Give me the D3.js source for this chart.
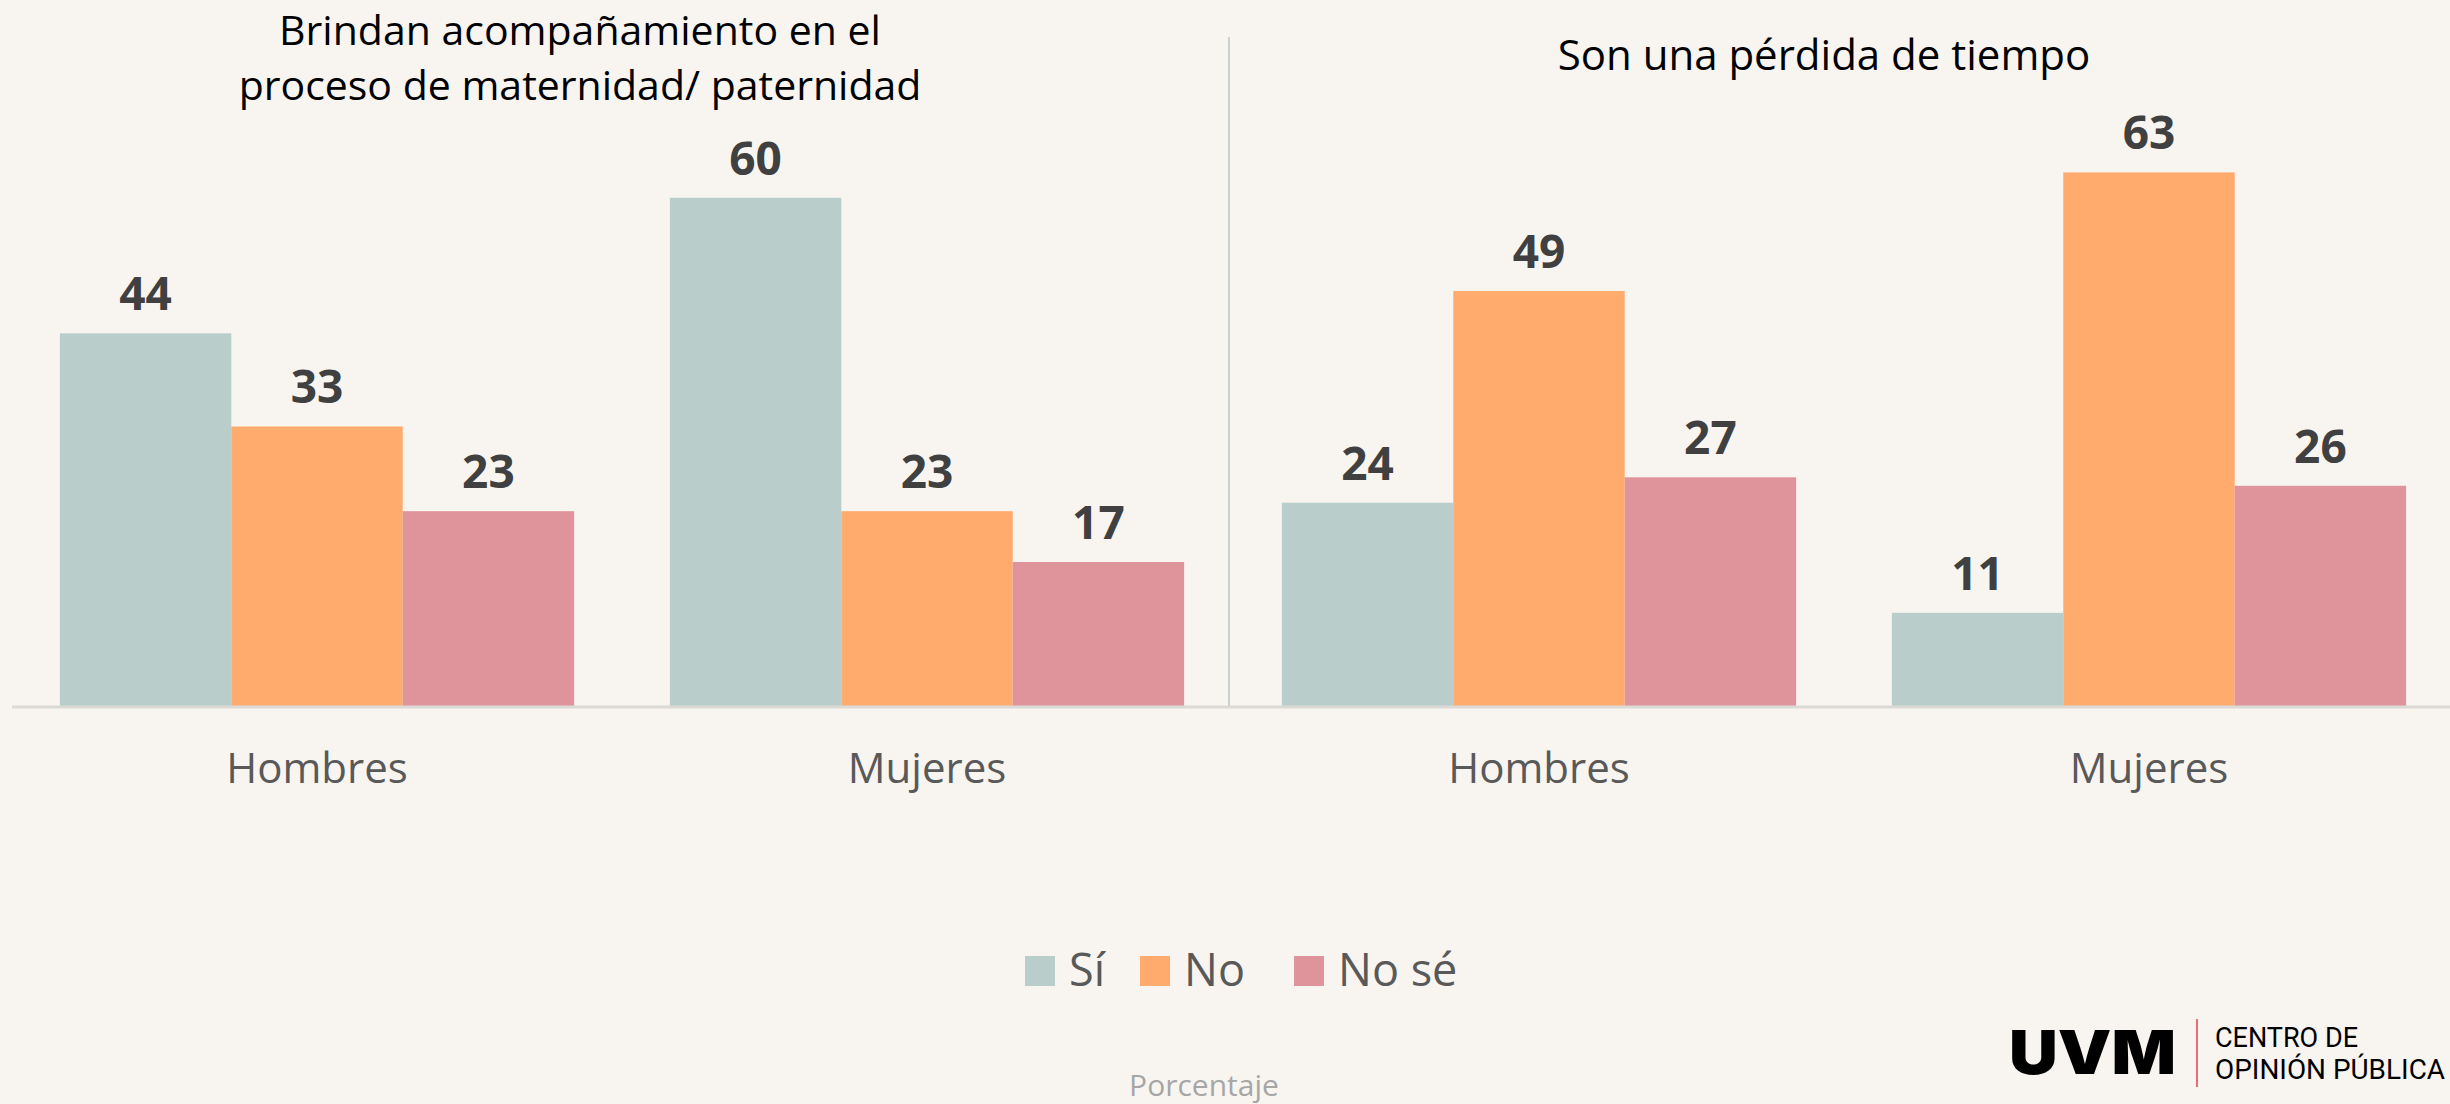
<!DOCTYPE html>
<html>
<head>
<meta charset="utf-8">
<script src="https://cdn.jsdelivr.net/npm/d3@7"></script>
<style>
  html, body { margin: 0; padding: 0; background: #f8f5f1; }
  svg { display: block; }
</style>
</head>
<body>
<svg id="chart" width="2450" height="1104"></svg>
<script>
// ---- data ----
const categories = ["Hombres", "Mujeres"];
const seriesNames = ["Sí", "No", "No sé"];
const panelTitles = [
  ["Brindan acompañamiento en el", "proceso de maternidad/ paternidad"],
  ["Son una pérdida de tiempo"]
];
// Panel 1: Brindan acompañamiento...
const p1Si = [44, 60];
const p1No = [33, 23];
const p1NoSe = [23, 17];
// Panel 2: Son una pérdida de tiempo
const p2Si = [24, 11];
const p2No = [49, 63];
const p2NoSe = [27, 26];
const footerLabel = "Porcentaje";

const colors = ["#b9cdcb", "#ffab6e", "#df949b"];

const panels = [
  { title: panelTitles[0], values: [p1Si, p1No, p1NoSe] },
  { title: panelTitles[1], values: [p2Si, p2No, p2NoSe] }
];

const W = 2450, H = 1104;
const svg = d3.select("#chart");
svg.append("rect").attr("width", W).attr("height", H).attr("fill", "#f8f5f1");

const baseY = 706;
const y = d3.scaleLinear().domain([0, 70]).range([baseY, baseY - 70 * 8.47]);

const panelRanges = [[12, 1232], [1234, 2454]];
const titleCenters = [580, 1824];
const FONT = "'Open Sans', 'Noto Sans', sans-serif";

panels.forEach((p, pi) => {
  const x0 = d3.scaleBand().domain(categories).range(panelRanges[pi])
    .paddingInner(0.157).paddingOuter(0.0785);
  const x1 = d3.scaleBand().domain(seriesNames).range([0, x0.bandwidth()]);
  const g = svg.append("g");

  const rows = [];
  categories.forEach((c, ci) => {
    seriesNames.forEach((s, si) => rows.push({ c, s, si, v: p.values[si][ci] }));
  });

  g.selectAll("rect.bar").data(rows).join("rect")
    .attr("class", "bar")
    .attr("x", d => x0(d.c) + x1(d.s))
    .attr("y", d => y(d.v))
    .attr("width", x1.bandwidth())
    .attr("height", d => y(0) - y(d.v))
    .attr("fill", d => colors[d.si]);

  g.selectAll("text.val").data(rows).join("text")
    .attr("class", "val")
    .attr("x", d => x0(d.c) + x1(d.s) + x1.bandwidth() / 2)
    .attr("y", d => y(d.v) - 23)
    .attr("text-anchor", "middle")
    .attr("font-family", FONT)
    .attr("font-weight", 700)
    .attr("font-size", 46)
    .attr("fill", "#404040")
    .text(d => d.v);

  // category axis labels
  const axis = d3.axisBottom(x0).tickSize(0).tickPadding(0);
  const ag = g.append("g").attr("transform", `translate(0,${baseY})`).call(axis);
  ag.select(".domain").remove();
  ag.selectAll("text")
    .attr("y", 77)
    .attr("dy", 0)
    .attr("font-family", FONT)
    .attr("font-size", 42)
    .attr("fill", "#595959");

  // title
  const t = g.append("text")
    .attr("text-anchor", "middle")
    .attr("font-family", FONT)
    .attr("font-size", p.title.length > 1 ? 41 : 42)
    .attr("fill", "#000");
  const tStartY = p.title.length > 1 ? 45 : 70;
  p.title.forEach((line, li) => {
    t.append("tspan").attr("x", titleCenters[pi]).attr("y", tStartY + li * 55).text(line);
  });
});

// baseline
svg.append("line")
  .attr("x1", 12).attr("x2", W).attr("y1", baseY + 1).attr("y2", baseY + 1)
  .attr("stroke", "#dcdad6").attr("stroke-width", 3);

// divider
svg.append("line")
  .attr("x1", 1229).attr("x2", 1229).attr("y1", 37).attr("y2", baseY)
  .attr("stroke", "#c6d3d0").attr("stroke-width", 2);

// legend
const legendItems = [
  { name: seriesNames[0], x: 1025 },
  { name: seriesNames[1], x: 1140 },
  { name: seriesNames[2], x: 1294 }
];
const lg = svg.append("g");
legendItems.forEach((it, i) => {
  lg.append("rect").attr("x", it.x).attr("y", 956).attr("width", 30).attr("height", 30)
    .attr("fill", colors[i]);
  lg.append("text").attr("x", it.x + 44).attr("y", 986)
    .attr("font-family", FONT).attr("font-size", 45).attr("fill", "#595959")
    .text(it.name);
});

// footer
svg.append("text").attr("x", 1204).attr("y", 1096).attr("text-anchor", "middle")
  .attr("font-family", FONT).attr("font-size", 30).attr("fill", "#a6a6a6")
  .text(footerLabel);

// logo
const logo = svg.append("g");
logo.append("text").attr("x", 2009).attr("y", 1074)
  .attr("font-family", "Inter, 'DejaVu Sans', sans-serif").attr("font-weight", 900)
  .attr("font-size", 61).attr("fill", "#000")
  .attr("textLength", 167).attr("lengthAdjust", "spacingAndGlyphs")
  .text("UVM");
logo.append("line").attr("x1", 2197).attr("x2", 2197).attr("y1", 1019).attr("y2", 1087)
  .attr("stroke", "#e0404a").attr("stroke-width", 1.5);
logo.append("text").attr("x", 2215).attr("y", 1047)
  .attr("font-family", "Roboto, sans-serif").attr("font-size", 27).attr("fill", "#000")
  .attr("textLength", 143).attr("lengthAdjust", "spacingAndGlyphs")
  .text("CENTRO DE");
logo.append("text").attr("x", 2215).attr("y", 1079)
  .attr("font-family", "Roboto, sans-serif").attr("font-size", 27).attr("fill", "#000")
  .attr("textLength", 230).attr("lengthAdjust", "spacingAndGlyphs")
  .text("OPINIÓN PÚBLICA");
</script>
</body>
</html>
